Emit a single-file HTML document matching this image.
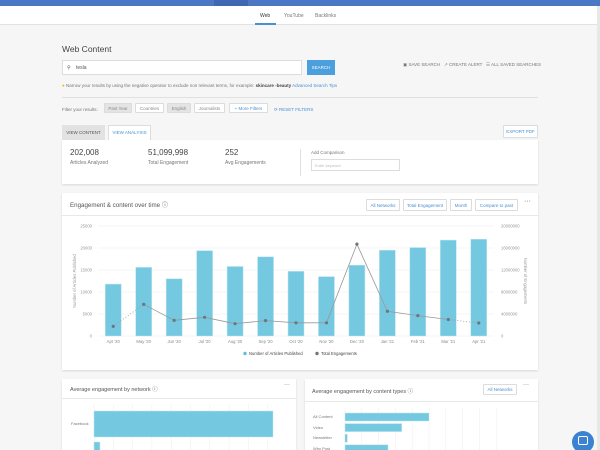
<!DOCTYPE html>
<html style="width:600px;height:450px;overflow:hidden"><head><meta charset="utf-8"><style>
*{box-sizing:border-box;margin:0;padding:0}
html,body{width:600px;height:450px;overflow:hidden}
body{background:#f6f6f6;font-family:"Liberation Sans",sans-serif;color:#555;position:relative}
.a{position:absolute}
.btn{position:absolute;border:1px solid #dcdcdc;background:#fff;font-size:4.5px;color:#4a90d0;text-align:center;border-radius:1px}
.card{position:absolute;background:#fff;box-shadow:0 1px 2px rgba(0,0,0,.12)}
.t{font-size:4.5px;color:#777;white-space:nowrap}
</style></head><body>
<div class="a" style="left:0;top:0;width:600px;height:6px;background:#4b77c4"></div>
<div class="a" style="left:214px;top:0;width:34px;height:6px;background:#3f68b3"></div>
<div class="a" style="left:0;top:6px;width:600px;height:19px;background:#fff;border-bottom:1px solid #e2e2e2"></div>
<div class="a t" style="left:260px;top:13px;font-size:5px;color:#333">Web</div>
<div class="a" style="left:255px;top:23px;width:21px;height:1.5px;background:#4a90d0"></div>
<div class="a t" style="left:284px;top:13px;font-size:5px">YouTube</div>
<div class="a t" style="left:315px;top:13px;font-size:5px">Backlinks</div>

<div class="a" style="left:62px;top:44px;font-size:8.5px;color:#444">Web Content</div>
<div class="a" style="left:62px;top:60px;width:240px;height:15px;background:#fff;border:1px solid #ddd;font-size:5px;padding:4px 0 0 13px;color:#555">tesla<span class="a" style="left:4px;top:3.5px;font-size:5px">&#9906;</span></div>
<div class="a" style="left:307px;top:60px;width:28px;height:15px;background:#4a9fdc;color:#fff;font-size:4.5px;text-align:center;line-height:15px">SEARCH</div>
<div class="a t" style="left:403px;top:62px">&#9635; SAVE SEARCH</div>
<div class="a t" style="left:444px;top:62px">&#8599; CREATE ALERT</div>
<div class="a t" style="left:486px;top:62px">&#9776; ALL SAVED SEARCHES</div>
<div class="a t" style="left:62px;top:82.5px"><span style="color:#f2b01e">&#9679;</span> Narrow your results by using the negative operator to exclude non relevant terms, for example: <b style="color:#444">skincare -beauty</b> <span style="color:#4a90d0">Advanced Search Tips</span></div>
<div class="a" style="left:62px;top:97px;width:476px;height:1px;background:#e0e0e0"></div>
<div class="a t" style="left:62px;top:106.5px">Filter your results:</div>
<div class="btn" style="left:104px;top:103px;width:28px;height:10px;line-height:9px;background:#e4e4e4;color:#888">Past Year</div>
<div class="btn" style="left:135px;top:103px;width:29px;height:10px;line-height:9px;color:#888">Countries</div>
<div class="btn" style="left:167px;top:103px;width:24px;height:10px;line-height:9px;background:#e4e4e4;color:#888">English</div>
<div class="btn" style="left:194px;top:103px;width:31px;height:10px;line-height:9px;color:#888">Journalists</div>
<div class="btn" style="left:229px;top:103px;width:39px;height:10px;line-height:9px">+ More Filters</div>
<div class="a t" style="left:274px;top:106.5px;color:#4a90d0">&#10227; RESET FILTERS</div>

<div class="a" style="left:62px;top:125px;width:43px;height:15px;background:#e2e2e2;font-size:4.5px;text-align:center;line-height:15px;color:#555">VIEW CONTENT</div>
<div class="a" style="left:108px;top:125px;width:43px;height:16px;background:#fff;border:1px solid #ddd;border-bottom:none;font-size:4.5px;text-align:center;line-height:14px;color:#4a90d0">VIEW ANALYSIS</div>
<div class="btn" style="left:503px;top:125px;width:35px;height:13px;line-height:12px">EXPORT PDF</div>

<div class="card" style="left:62px;top:140px;width:476px;height:44px">
 <div class="a" style="left:8px;top:8px;font-size:8px;color:#444">202,008</div><div class="a t" style="left:8px;top:20px;font-size:5px">Articles Analyzed</div>
 <div class="a" style="left:86px;top:8px;font-size:8px;color:#444">51,099,998</div><div class="a t" style="left:86px;top:20px;font-size:5px">Total Engagement</div>
 <div class="a" style="left:163px;top:8px;font-size:8px;color:#444">252</div><div class="a t" style="left:163px;top:20px;font-size:5px">Avg Engagements</div>
 <div class="a" style="left:238px;top:9px;width:1px;height:27px;background:#e0e0e0"></div>
 <div class="a t" style="left:249px;top:10px">Add Comparison</div>
 <div class="a" style="left:249px;top:19px;width:89px;height:12px;border:1px solid #ddd;font-size:4px;color:#bbb;padding:3px 0 0 3px">Enter keyword</div>
</div>

<div class="card" style="left:62px;top:193px;width:476px;height:177px">
 <div class="a" style="left:8px;top:7px;font-size:6.2px;color:#555">Engagement &amp; content over time &#9432;</div>
 <div class="a" style="left:0;top:22px;width:476px;height:1px;background:#e8e8e8"></div>
 <div class="btn" style="left:304px;top:6px;width:34px;height:12px;line-height:11px">All Networks</div>
 <div class="btn" style="left:341px;top:6px;width:44px;height:12px;line-height:11px">Total Engagement</div>
 <div class="btn" style="left:388px;top:6px;width:22px;height:12px;line-height:11px">Month</div>
 <div class="btn" style="left:413px;top:6px;width:43px;height:12px;line-height:11px">Compare to past</div>
 <div class="a" style="left:462px;top:5px;font-size:7px;color:#555">&middot;&middot;&middot;</div>
</div>
<svg class="a" style="left:0;top:0" width="600" height="450" id="ch"></svg>

<div class="card" style="left:62px;top:379px;width:234px;height:80px">
 <div class="a" style="left:8px;top:6px;font-size:5.5px;color:#555">Average engagement by network &#9432;</div>
 <div class="a" style="left:222px;top:3px;font-size:6px">&middot;&middot;&middot;</div>
 <div class="a" style="left:0;top:19px;width:234px;height:1px;background:#e8e8e8"></div>
 <div class="a t" style="left:9px;top:42px;font-size:4px">Facebook</div>
</div>
<div class="card" style="left:305px;top:379px;width:233px;height:80px">
 <div class="a" style="left:7px;top:8px;font-size:5.5px;color:#555">Average engagement by content types &#9432;</div>
 <div class="btn" style="left:178px;top:5px;width:34px;height:11px;line-height:10px">All Networks</div>
 <div class="a" style="left:218px;top:3px;font-size:6px">&middot;&middot;&middot;</div>
 <div class="a" style="left:0;top:22px;width:233px;height:1px;background:#e8e8e8"></div>
 <div class="a t" style="left:8px;top:35px;font-size:4px">All Content</div>
 <div class="a t" style="left:8px;top:46px;font-size:4px">Video</div>
 <div class="a t" style="left:8px;top:56px;font-size:4px">Newsletter</div>
 <div class="a t" style="left:8px;top:67px;font-size:4px">Why Post</div>
</div>
<svg class="a" style="left:0;top:0" width="600" height="450" id="bb"></svg>
<div class="a" style="left:572px;top:431px;width:22px;height:22px;border-radius:50%;background:#3b82d0"><div class="a" style="left:6px;top:5px;width:10px;height:9px;border:1.5px solid #fff;border-radius:2px"></div></div>
<div class="a" style="left:597px;top:6px;width:3px;height:444px;background:#e8e8e8"></div>

<script>
const months=["Apr '20","May '20","Jun '20","Jul '20","Aug '20","Sep '20","Oct '20","Nov '20","Dec '20","Jan '21","Feb '21","Mar '21","Apr '21"];
const articles=[11800,15600,13000,19400,15800,18000,14700,13500,16100,19500,20100,21800,22000];
const engagements=[1760000,5760000,2850000,3400000,2240000,2800000,2400000,2400000,16700000,4500000,3700000,3000000,2360000];
const leftTicks=[0,5000,10000,15000,20000,25000];
const rightTicks=[0,4000000,8000000,12000000,16000000,20000000];
const NS="http://www.w3.org/2000/svg";
function mk(svg,tag,at,txt){const e=document.createElementNS(NS,tag);for(const k in at)e.setAttribute(k,at[k]);if(txt!=null)e.textContent=txt;svg.appendChild(e);return e;}
const svg=document.getElementById('ch');
const X0=98,X1=494,Y0=336,Y1=226;
const step=(X1-X0)/months.length;
const xc=i=>X0+step*(i+0.5);
const yL=v=>Y0-(v/25000)*(Y0-Y1);
const yR=v=>Y0-(v/20000000)*(Y0-Y1);
leftTicks.forEach(t=>{const g=mk(svg,'line',{x1:X0,x2:X1,y1:yL(t),y2:yL(t),stroke:'#eee','stroke-width':0.6});


const l=mk(svg,'text',{x:92,y:yL(t)+1.5,'font-size':4.2,fill:'#999','text-anchor':'end'},t);

});
rightTicks.forEach(t=>{const l=mk(svg,'text',{x:501,y:yR(t)+1.5,'font-size':4.2,fill:'#999'},t);

});
mk(svg,'text',{transform:'translate(76,281) rotate(-90)','font-size':4.2,fill:'#999','text-anchor':'middle'},'Number of Articles Published');
mk(svg,'text',{transform:'translate(524,281) rotate(90)','font-size':4.2,fill:'#999','text-anchor':'middle'},'Number of Engagements');
articles.forEach((v,i)=>{const r=mk(svg,'rect',{x:xc(i)-8,y:yL(v),width:16,height:Y0-yL(v),fill:'#74c9e1',stroke:'#bfe6f1','stroke-width':0.5});


const l=mk(svg,'text',{x:xc(i),y:343,'font-size':4.2,fill:'#888','text-anchor':'middle'},months[i]);

});
for(let i=0;i<engagements.length-1;i++){const dotted=(i==0||i==engagements.length-2);
const s=mk(svg,'line',{x1:xc(i),y1:yR(engagements[i]),x2:xc(i+1),y2:yR(engagements[i+1]),stroke:'#999','stroke-width':0.8,'stroke-dasharray':dotted?'1,2':'none'});

}
engagements.forEach((v,i)=>{const c=mk(svg,'circle',{cx:xc(i),cy:yR(v),r:1.6,fill:'#6f7480'});

});
mk(svg,'circle',{cx:245,cy:353.5,r:1.7,fill:'#5bc0de'});
const lg1=mk(svg,'text',{x:249,y:355,'font-size':4.2,fill:'#444'},'Number of Articles Published');


mk(svg,'circle',{cx:317,cy:353.5,r:1.7,fill:'#6f7480'});
const lg2=mk(svg,'text',{x:321,y:355,'font-size':4.2,fill:'#444'},'Total Engagements');



const netNames=["Facebook","Other"];
const netValues=[900,30];
const typeNames=["All Content","Video","Newsletter","Why Post"];
const typeValues=[430,290,12,220];
const bb=document.getElementById('bb');
for(let k=0;k<10;k++){mk(bb,'line',{x1:94+k*19.3,x2:94+k*19.3,y1:404,y2:450,stroke:'#eee','stroke-width':0.5});
mk(bb,'line',{x1:345+k*16.8,x2:345+k*16.8,y1:408,y2:450,stroke:'#eee','stroke-width':0.5});}
const nx=v=>v/900*179;
netValues.forEach((v,i)=>{const r=mk(bb,'rect',{x:94,y:i==0?411:442,width:nx(v),height:i==0?26:12,fill:'#74c9e1',stroke:'#bfe6f1','stroke-width':0.5});

});
const tx=v=>v/430*84;
typeValues.forEach((v,i)=>{const r=mk(bb,'rect',{x:345,y:413+i*10.6,width:tx(v),height:8,fill:'#74c9e1',stroke:'#bfe6f1','stroke-width':0.5});

});
</script>
</body></html>
